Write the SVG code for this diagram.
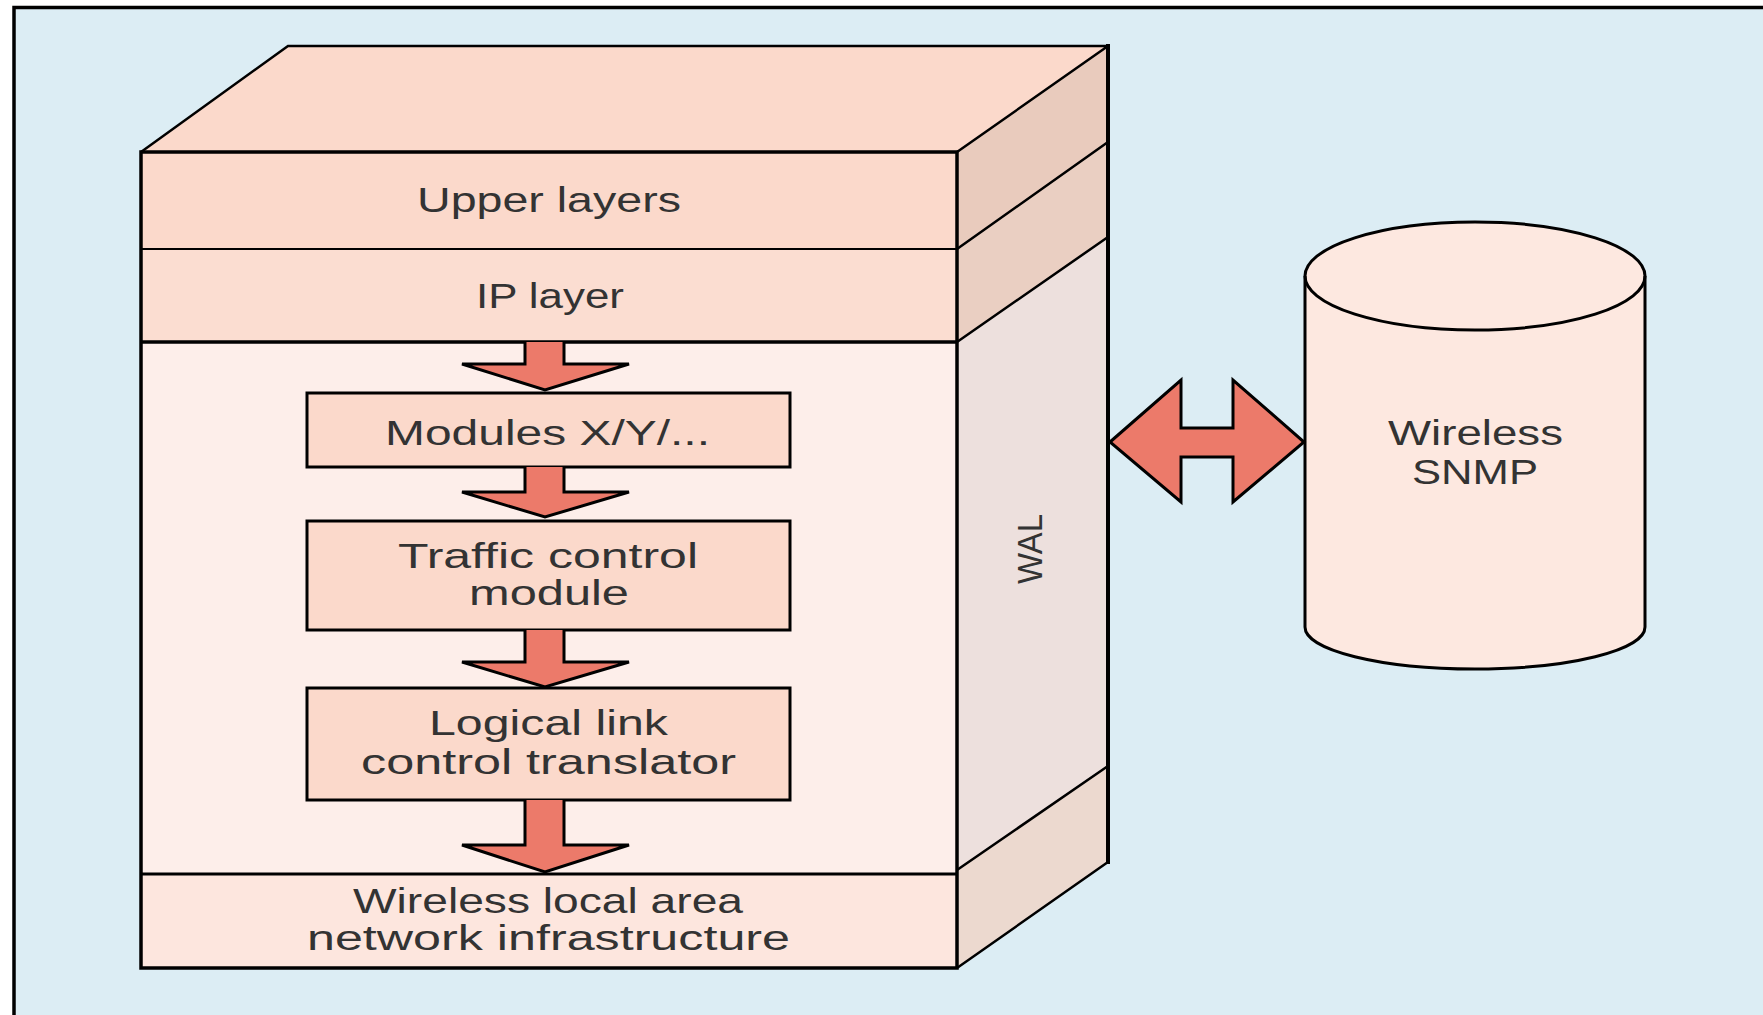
<svg xmlns="http://www.w3.org/2000/svg" width="1763" height="1015" viewBox="0 0 1763 1015">
  <style>
    .ln { stroke: #000; fill: none; stroke-linejoin: miter; }
    .t { font-family: "Liberation Sans", Arial, sans-serif; fill: #333333; font-size: 35px; }
    .arrow { fill: #EC7A6A; stroke: #000; stroke-width: 3; stroke-linejoin: miter; }
    .box { fill: #FBD9CB; stroke: #000; stroke-width: 3; }
  </style>

  <g id="frame">
    <rect x="0" y="0" width="1763" height="1015" fill="#ffffff"/>
    <rect x="14" y="7.5" width="1749" height="1008" fill="#DCEDF4"/>
    <path class="ln" d="M14,1015 V7.5 H1763" stroke-width="3.5"/>
  </g>

  <g id="stack-3d">
    <polygon id="top-face" points="141,152 288,46 1108,46 957,152" fill="#FBD9CB"/>
    <polygon id="side-upper" points="957,152 1108,46 1108,142 957,249" fill="#E9CBBD"/>
    <polygon id="side-ip" points="957,249 1108,142 1108,237 957,342" fill="#EACFC2"/>
    <polygon id="side-wal" points="957,342 1108,237 1108,766 957,870" fill="#EDE0DD"/>
    <polygon id="side-wlan" points="957,870 1108,766 1108,862 957,968" fill="#ECD9CF"/>
    <path class="ln" stroke-width="2.5" d="M141,152 L288,46 H1108 M957,152 L1108,46 M957,249 L1108,142 M957,342 L1108,237 M957,870 L1108,766 M957,968 L1108,862"/>
    <path class="ln" stroke-width="4" d="M1108,44 V864"/>
  </g>

  <g id="upper-layers">
    <rect x="141" y="152" width="816" height="97" fill="#FBD9CB"/>
    <text class="t" x="417" y="212" textLength="264" lengthAdjust="spacingAndGlyphs">Upper layers</text>
  </g>

  <g id="ip-layer">
    <rect x="141" y="249" width="816" height="93" fill="#FBDDD1"/>
    <text class="t" x="476" y="308" textLength="148" lengthAdjust="spacingAndGlyphs">IP layer</text>
  </g>

  <g id="wal">
    <rect x="141" y="342" width="816" height="532" fill="#FDEEEA"/>
    <text class="t" x="1042" y="584" font-size="50" textLength="70" lengthAdjust="spacingAndGlyphs" transform="rotate(-90 1042 584)">WAL</text>
  </g>

  <g id="wlan">
    <rect x="141" y="874" width="816" height="94" fill="#FDE6DE"/>
    <text class="t" x="353" y="913" font-size="33" textLength="390" lengthAdjust="spacingAndGlyphs">Wireless local area</text>
    <text class="t" x="307" y="950" font-size="33" textLength="483" lengthAdjust="spacingAndGlyphs">network infrastructure</text>
  </g>

  <g id="front-lines">
    <path class="ln" stroke-width="2" d="M141,249 H957"/>
    <path class="ln" stroke-width="3.5" d="M141,342 H957"/>
    <path class="ln" stroke-width="3" d="M141,874 H957"/>
    <rect class="ln" x="141" y="152" width="816" height="816" stroke-width="3.5"/>
  </g>

  <g id="modules">
    <rect class="box" x="307" y="393" width="483" height="74"/>
    <text class="t" x="385" y="445" font-size="36" textLength="325" lengthAdjust="spacingAndGlyphs">Modules X/Y/...</text>
  </g>

  <g id="traffic-control">
    <rect class="box" x="307" y="521" width="483" height="109"/>
    <text class="t" x="398" y="568" font-size="33" textLength="300" lengthAdjust="spacingAndGlyphs">Traffic control</text>
    <text class="t" x="469" y="605" font-size="33" textLength="160" lengthAdjust="spacingAndGlyphs">module</text>
  </g>

  <g id="llc-translator">
    <rect class="box" x="307" y="688" width="483" height="112"/>
    <text class="t" x="429" y="735" font-size="29" textLength="239" lengthAdjust="spacingAndGlyphs">Logical link</text>
    <text class="t" x="361" y="774" font-size="29" textLength="375" lengthAdjust="spacingAndGlyphs">control translator</text>
  </g>

  <g id="wireless-snmp">
    <path fill="#FDE8E0" stroke="#000" stroke-width="3" d="M1305,276 A170,54 0 0 1 1645,276 V627 A170,42 0 0 1 1305,627 Z"/>
    <path class="ln" stroke-width="3" d="M1305,276 A170,54 0 0 0 1645,276"/>
    <text class="t" x="1388" y="445" font-size="28" textLength="175" lengthAdjust="spacingAndGlyphs">Wireless</text>
    <text class="t" x="1412" y="484" font-size="28" textLength="126" lengthAdjust="spacingAndGlyphs">SNMP</text>
  </g>

  <g id="connectors">
    <path class="arrow" d="M525,342 V364 H462 L545,390 L629,364 H564 V342"/>
    <path class="arrow" d="M525,467 V492 H462 L545,517 L629,492 H564 V467"/>
    <path class="arrow" d="M525,630 V662 H462 L545,687 L629,662 H564 V630"/>
    <path class="arrow" d="M525,800 V845 H462 L545,872 L629,845 H564 V800"/>
    <polygon class="arrow" points="1110,442 1181,380 1181,428 1233,428 1233,380 1304,442 1233,502 1233,457 1181,457 1181,502"/>
  </g>
</svg>
